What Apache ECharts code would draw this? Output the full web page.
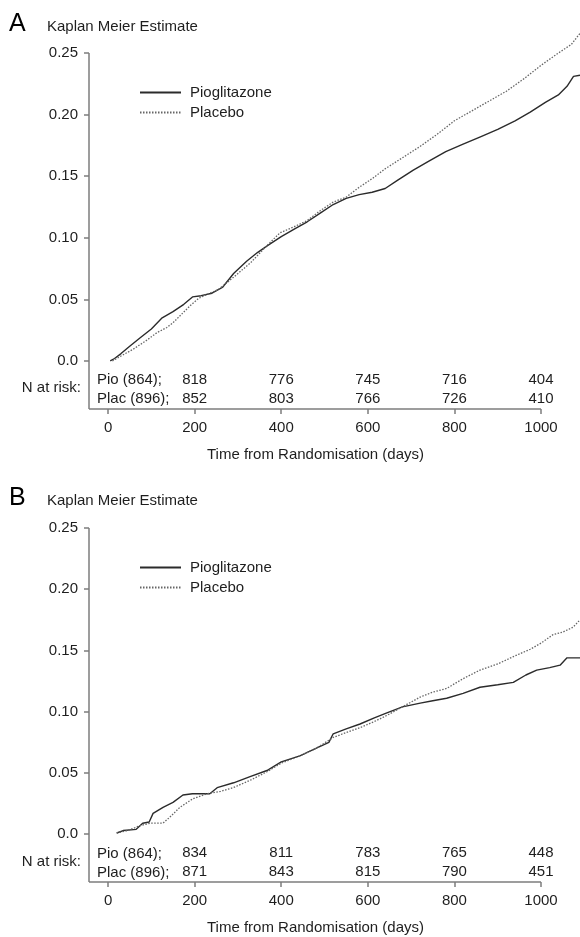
<!DOCTYPE html>
<html>
<head>
<meta charset="utf-8">
<title>Kaplan Meier Estimate</title>
<script src="https://cdn.jsdelivr.net/npm/echarts@6.0.0/dist/echarts.min.js"></script>
<style>
html, body { margin: 0; padding: 0; background: #fff; }
#km { width: 580px; height: 937px; }
</style>
</head>
<body>
<div id="km"></div>
<script>
const mychart = echarts.init(document.getElementById('km'))

const dayTicks = [0, 200, 400, 600, 800, 1000]
const estTicks = [0, 0.05, 0.10, 0.15, 0.20, 0.25]
const riskDays = [200, 400, 600, 800, 1000]

// panel A  [day, estimate]
const pioA = [[5,0],[15,0.002],[30,0.006],[50,0.012],[75,0.019],[100,0.026],[125,0.035],[150,0.040],[175,0.046],[195,0.052],[215,0.053],[240,0.055],[265,0.060],[290,0.071],[320,0.081],[345,0.088],[370,0.094],[400,0.101],[430,0.107],[460,0.113],[490,0.120],[520,0.127],[550,0.132],[580,0.135],[610,0.137],[640,0.140],[670,0.147],[705,0.155],[740,0.162],[780,0.170],[820,0.176],[860,0.182],[900,0.188],[940,0.195],[975,0.202],[1010,0.210],[1040,0.216],[1060,0.223],[1075,0.231],[1090,0.232]]
const placA = [[10,0],[30,0.004],[60,0.010],[90,0.017],[113,0.023],[135,0.027],[150,0.031],[170,0.038],[190,0.045],[210,0.051],[235,0.055],[255,0.058],[290,0.068],[330,0.080],[365,0.093],[397,0.104],[430,0.109],[460,0.114],[490,0.122],[520,0.129],[550,0.133],[580,0.141],[610,0.148],[640,0.156],[680,0.165],[720,0.174],[760,0.184],[800,0.195],[840,0.203],[880,0.211],[920,0.219],[960,0.229],[1000,0.240],[1040,0.250],[1070,0.257],[1090,0.266]]
const riskPioA = [818, 776, 745, 716, 404]
const riskPlacA = [852, 803, 766, 726, 410]

// panel B
const pioB = [[20,0.001],[35,0.003],[65,0.004],[80,0.009],[95,0.010],[104,0.017],[127,0.022],[150,0.026],[173,0.032],[195,0.033],[235,0.033],[252,0.038],[290,0.042],[328,0.047],[367,0.052],[400,0.059],[443,0.064],[480,0.070],[510,0.075],[520,0.082],[550,0.086],[582,0.090],[615,0.095],[644,0.099],[680,0.104],[721,0.107],[750,0.109],[782,0.111],[820,0.115],[859,0.120],[900,0.122],[936,0.124],[965,0.130],[990,0.134],[1020,0.136],[1044,0.138],[1060,0.144],[1090,0.144]]
const placB = [[20,0.001],[45,0.003],[74,0.007],[97,0.009],[127,0.009],[143,0.014],[166,0.022],[196,0.029],[229,0.033],[260,0.035],[289,0.038],[328,0.044],[367,0.051],[400,0.058],[443,0.064],[480,0.070],[520,0.079],[550,0.083],[582,0.087],[615,0.092],[644,0.097],[680,0.104],[721,0.112],[750,0.116],[782,0.119],[820,0.127],[859,0.134],[900,0.139],[936,0.145],[975,0.151],[1000,0.156],[1028,0.163],[1050,0.165],[1074,0.169],[1090,0.175]]
const riskPioB = [834, 811, 783, 765, 448]
const riskPlacB = [871, 843, 815, 790, 451]

const xMin = -44, xMax = 1090, xEnd = 1000
const yMin = -0.039, yMax = 0.27, yEnd = 0.25

const font = 'Liberation Sans, Arial, Helvetica, sans-serif'
const axisGray = '#7d7d7d'
const ink = '#1e1e1e'

function xAxisFor(i) {
    return {
        type: 'value', gridIndex: i, min: xMin, max: xMax,
        axisLine: {show: false, onZero: false},
        axisTick: {customValues: dayTicks, length: 5, lineStyle: {color: axisGray, width: 1.5}},
        axisLabel: {customValues: dayTicks, color: ink, fontSize: 15, margin: 11,
            formatter: function (v) { return String(v) }},
        splitLine: {show: false},
        name: 'Time from Randomisation (days)', nameLocation: 'middle', nameGap: 38,
        nameTextStyle: {color: ink, fontSize: 15, padding: [0, 38, 0, 0]}
    }
}

function yAxisFor(i) {
    return {
        type: 'value', gridIndex: i, min: yMin, max: yMax,
        axisLine: {show: false, onZero: false},
        axisTick: {customValues: estTicks, length: 5, lineStyle: {color: axisGray, width: 1.5}},
        axisLabel: {
            customValues: estTicks, color: ink, fontSize: 15, margin: 11,
            formatter: function (v) { return v === 0 ? '0.0' : v.toFixed(2) }
        },
        splitLine: {show: false}
    }
}

// axis lines stop at 0.25 and 1000 like the original, curves run on
const frame = {
    silent: true, symbol: 'none', animation: false,
    label: {show: false},
    lineStyle: {color: axisGray, width: 1.5, type: 'solid'},
    data: [
        [{coord: [xMin, yMin]}, {coord: [xMin, yEnd]}],
        [{coord: [xMin, yMin]}, {coord: [xEnd, yMin]}]
    ]
}

function curve(name, i, data, dotted) {
    const s = {
        name: name, type: 'line', xAxisIndex: i, yAxisIndex: i,
        data: data, symbol: 'none', showSymbol: false,
        lineStyle: dotted ? {color: '#666', width: 1.3, type: [1.5, 1.5]} : {color: '#2b2b2b', width: 1.4},
        itemStyle: {color: dotted ? '#666' : '#2b2b2b'}
    }
    if (!dotted) s.markLine = frame
    return s
}

function riskRow(i, counts, y) {
    return {
        type: 'scatter', xAxisIndex: i, yAxisIndex: i, symbolSize: 0, silent: true,
        data: riskDays.map(function (d, k) { return [d, y, counts[k]] }),
        itemStyle: {opacity: 1},
        label: {show: true, position: [0, 0], align: 'center', verticalAlign: 'middle',
            color: ink, fontSize: 15, textBorderWidth: 0,
            formatter: function (p) { return p.value[2] }}
    }
}

function texts(dy) {
    return [
        {type: 'text', x: 9, y: 24 + dy, style: {text: dy ? 'B' : 'A', fontSize: 25, fontFamily: font, fill: '#000', verticalAlign: 'middle'}},
        {type: 'text', x: 47, y: 27 + dy, style: {text: 'Kaplan Meier Estimate', fontSize: 15, fontFamily: font, fill: ink, verticalAlign: 'middle'}},
        {type: 'text', x: 81, y: 388 + dy, style: {text: 'N at risk:', fontSize: 15, fontFamily: font, fill: ink, align: 'right', verticalAlign: 'middle'}},
        {type: 'text', x: 97, y: 379.5 + dy, style: {text: 'Pio (864);', fontSize: 15, fontFamily: font, fill: ink, verticalAlign: 'middle'}},
        {type: 'text', x: 97, y: 398.5 + dy, style: {text: 'Plac (896);', fontSize: 15, fontFamily: font, fill: ink, verticalAlign: 'middle'}}
    ]
}

function legendAt(top) {
    return {
        orient: 'vertical', left: 134, top: top, itemWidth: 41, itemHeight: 15, itemGap: 5,
        selectedMode: false, data: ['Pioglitazone', 'Placebo'],
        itemStyle: {opacity: 0},
        textStyle: {color: ink, fontSize: 15, padding: [0, 0, 0, 4]}
    }
}

mychart.setOption({
    animation: false,
    textStyle: {fontFamily: font},
    legend: [legendAt(80), legendAt(555)],
    grid: [
        {left: 89, top: 28.4, width: 491, height: 380.6},
        {left: 89, top: 503.5, width: 491, height: 378.5}
    ],
    xAxis: [xAxisFor(0), xAxisFor(1)],
    yAxis: [yAxisFor(0), yAxisFor(1)],
    graphic: texts(0).concat(texts(474)),
    series: [
        curve('Pioglitazone', 0, pioA, false),
        curve('Placebo', 0, placA, true),
        riskRow(0, riskPioA, -0.0155),
        riskRow(0, riskPlacA, -0.031),
        curve('Pioglitazone', 1, pioB, false),
        curve('Placebo', 1, placB, true),
        riskRow(1, riskPioB, -0.0155),
        riskRow(1, riskPlacB, -0.031)
    ]
})
</script>
</body>
</html>
